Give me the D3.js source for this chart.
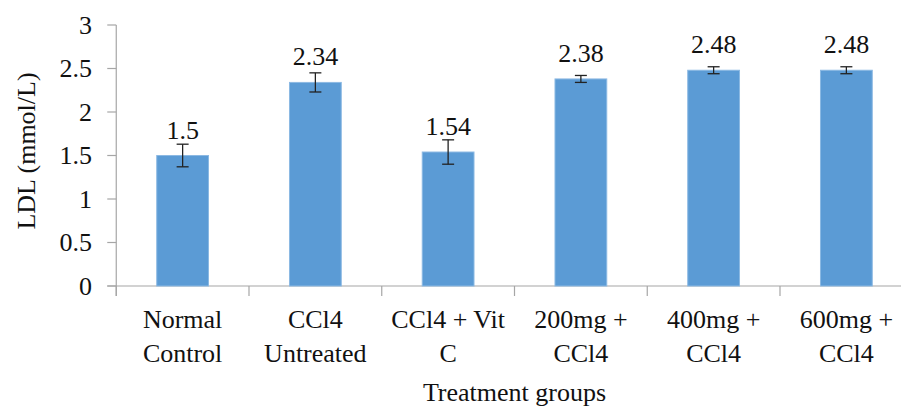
<!DOCTYPE html>
<html>
<head>
<meta charset="utf-8">
<script src="https://cdn.jsdelivr.net/npm/d3@7"></script>
<style>
  body { margin: 0; background: #fff; }
  text { font-family: "Liberation Serif", "Times New Roman", serif; fill: #111; }
</style>
</head>
<body>
<svg id="chart" width="901" height="408"></svg>
<script>
// chart data
var groups = [
  ['Normal', 'Control'],
  ['CCl4', 'Untreated'],
  ['CCl4 + Vit', 'C'],
  ['200mg +', 'CCl4'],
  ['400mg +', 'CCl4'],
  ['600mg +', 'CCl4']
];
var ldl = [1.5, 2.34, 1.54, 2.38, 2.48, 2.48];
var ldlErr = [0.13, 0.11, 0.14, 0.04, 0.04, 0.04];
var yTicks = [0, 0.5, 1, 1.5, 2, 2.5, 3];

var svg = d3.select('#chart');
var plotLeft = 116.25, plotRight = 912.75, plotTop = 25, plotBottom = 286;
var fs = 26;

var x = d3.scaleBand()
  .domain(d3.range(groups.length))
  .range([plotLeft, plotRight])
  .paddingInner(0.61)
  .paddingOuter(0.305);

var xTick = d3.scaleBand()
  .domain(d3.range(groups.length))
  .range([plotLeft, plotRight]);

var y = d3.scaleLinear().domain([0, 3]).range([plotBottom, plotTop]);

// y axis
var yAxis = svg.append('g');
yAxis.append('line')
  .attr('x1', plotLeft).attr('x2', plotLeft)
  .attr('y1', y(3)).attr('y2', plotBottom + 10)
  .attr('stroke', '#a6a6a6').attr('stroke-width', 1.2);
yAxis.selectAll('.yt')
  .data(yTicks)
  .enter().append('line')
  .attr('x1', plotLeft - 9).attr('x2', plotLeft)
  .attr('y1', function(d) { return y(d); })
  .attr('y2', function(d) { return y(d); })
  .attr('stroke', '#a6a6a6').attr('stroke-width', 1.2);
yAxis.selectAll('.yl')
  .data(yTicks)
  .enter().append('text')
  .attr('x', 92)
  .attr('y', function(d) { return y(d) + 8.5; })
  .attr('text-anchor', 'end')
  .attr('font-size', fs)
  .text(function(d) { return d; });

// x axis
svg.append('line')
  .attr('x1', plotLeft - 9).attr('x2', plotRight)
  .attr('y1', plotBottom).attr('y2', plotBottom)
  .attr('stroke', '#a6a6a6').attr('stroke-width', 1.2);
svg.selectAll('.xt')
  .data(d3.range(groups.length))
  .enter().append('line')
  .attr('x1', function(d) { return xTick(d); })
  .attr('x2', function(d) { return xTick(d); })
  .attr('y1', plotBottom).attr('y2', plotBottom + 10)
  .attr('stroke', '#a6a6a6').attr('stroke-width', 1.2);

var xl = svg.selectAll('.xl')
  .data(groups)
  .enter().append('text')
  .attr('text-anchor', 'middle')
  .attr('font-size', fs);
xl.append('tspan')
  .attr('x', function(d, i) { return x(i) + x.bandwidth() / 2; })
  .attr('y', 328)
  .text(function(d) { return d[0]; });
xl.append('tspan')
  .attr('x', function(d, i) { return x(i) + x.bandwidth() / 2; })
  .attr('y', 362)
  .text(function(d) { return d[1]; });

// bars
svg.selectAll('.bar')
  .data(ldl)
  .enter().append('rect')
  .attr('x', function(d, i) { return x(i); })
  .attr('y', function(d) { return y(d); })
  .attr('width', x.bandwidth())
  .attr('height', function(d) { return plotBottom - y(d); })
  .attr('fill', '#5b9bd5')
  .attr('stroke', '#8cb9e3')
  .attr('stroke-width', 1);

// error bars
var eb = svg.selectAll('.err')
  .data(ldl)
  .enter().append('g')
  .attr('stroke', '#222').attr('stroke-width', 1.3);
eb.append('line')
  .attr('x1', function(d, i) { return x(i) + x.bandwidth() / 2; })
  .attr('x2', function(d, i) { return x(i) + x.bandwidth() / 2; })
  .attr('y1', function(d, i) { return y(d + ldlErr[i]); })
  .attr('y2', function(d, i) { return y(d - ldlErr[i]); });
[1, -1].forEach(function(s) {
  eb.append('line')
    .attr('x1', function(d, i) { return x(i) + x.bandwidth() / 2 - 6; })
    .attr('x2', function(d, i) { return x(i) + x.bandwidth() / 2 + 6; })
    .attr('y1', function(d, i) { return y(d + s * ldlErr[i]); })
    .attr('y2', function(d, i) { return y(d + s * ldlErr[i]); });
});

// value labels
svg.selectAll('.val')
  .data(ldl)
  .enter().append('text')
  .attr('x', function(d, i) { return x(i) + x.bandwidth() / 2; })
  .attr('y', function(d) { return y(d) - 17; })
  .attr('text-anchor', 'middle')
  .attr('font-size', fs)
  .text(function(d) { return d; });

// axis titles
svg.append('text')
  .attr('transform', 'translate(35,151) rotate(-90)')
  .attr('text-anchor', 'middle')
  .attr('font-size', fs)
  .text('LDL (mmol/L)');
svg.append('text')
  .attr('x', (plotLeft + plotRight) / 2)
  .attr('y', 401)
  .attr('text-anchor', 'middle')
  .attr('font-size', fs)
  .text('Treatment groups');
</script>
</body>
</html>
